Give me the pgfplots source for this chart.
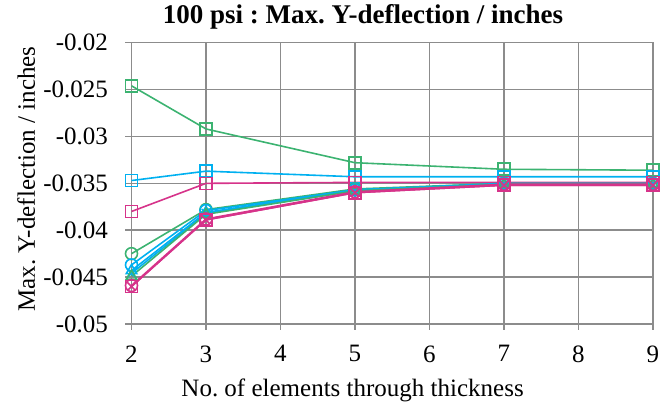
\documentclass[border=0pt]{standalone}
\usepackage{pgfplots}
\pgfplotsset{compat=1.18}
\usepackage{fontspec}
\setmainfont{Liberation Serif}
\frenchspacing
\definecolor{cgreen}{RGB}{60,179,113}
\definecolor{ccyan}{RGB}{0,176,240}
\definecolor{cmag}{RGB}{214,51,138}
\definecolor{cgrid}{RGB}{140,140,140}
\begin{document}
\begin{tikzpicture}
\useasboundingbox (-131.5pt,-82pt) rectangle (530.5pt,324pt);
\begin{axis}[
  at={(0,0)}, anchor=south west,
  scale only axis, width=521.5pt, height=281.3pt,
  xmin=2, xmax=9, ymin=-0.05, ymax=-0.02,
  xtick={2,3,4,5,6,7,8,9},
  ytick={-0.05,-0.045,-0.04,-0.035,-0.03,-0.025,-0.02},
  scaled y ticks=false,
  yticklabel style={/pgf/number format/fixed, /pgf/number format/precision=3, /pgf/number format/assume math mode=true, xshift=-14pt},
  xticklabel style={/pgf/number format/assume math mode=true, yshift=-12pt},
  tick label style={font=\fontsize{25}{28}\selectfont},
  label style={font=\fontsize{25}{28}\selectfont},
  title style={font=\fontsize{27}{30}\selectfont\bfseries, at={(axis description cs:0.444,1)}, anchor=center, yshift=20pt},
  title={100 psi : Max. Y-deflection / inches},
  xlabel={No. of elements through thickness},
  xlabel style={at={(axis description cs:0.424,0)}, anchor=center, yshift=-66pt},
  ylabel={Max. Y-deflection / inches},
  ylabel style={at={(axis description cs:-0.202,0.515)}, anchor=center},
  grid=major,
  grid style={cgrid, line width=1.5pt},
  axis line style={cgrid, line width=1.5pt},
  tick style={cgrid, line width=1.5pt},
  tick align=outside, major tick length=6pt,
  xtick pos=bottom, ytick pos=left,
  every axis plot/.append style={line width=1.6pt, mark options={solid, line width=1.6pt, fill=none}},
  clip=false,
]
% green square
\addplot[cgreen, mark=square, mark size=6pt] coordinates {(2,-0.0246) (3,-0.0292) (5,-0.0328) (7,-0.0335) (9,-0.0336)};
% cyan square
\addplot[ccyan, mark=square, mark size=6pt] coordinates {(2,-0.0347) (3,-0.0337) (5,-0.0343) (7,-0.0343) (9,-0.0343)};
% magenta square (upper)
\addplot[cmag, mark=square, mark size=6pt] coordinates {(2,-0.0380) (3,-0.0350) (5,-0.0349) (7,-0.0349) (9,-0.0349)};
% green circle
\addplot[cgreen, mark=o, mark size=6pt] coordinates {(2,-0.0425) (3,-0.0378) (5,-0.0356) (7,-0.0350) (9,-0.0350)};
% cyan circle
\addplot[ccyan, mark=o, mark size=6pt] coordinates {(2,-0.0437) (3,-0.0379) (5,-0.0357) (7,-0.0350) (9,-0.0350)};
% cyan triangle
\addplot[ccyan, mark=triangle, mark size=6pt] coordinates {(2,-0.0443) (3,-0.0381) (5,-0.0357) (7,-0.0351) (9,-0.0351)};
% cyan x
\addplot[ccyan, mark=x, mark size=6pt] coordinates {(2,-0.0446) (3,-0.0382) (5,-0.0358) (7,-0.0351) (9,-0.0351)};
% green triangle
\addplot[cgreen, mark=triangle, mark size=6pt] coordinates {(2,-0.0449) (3,-0.0383) (5,-0.0358) (7,-0.0351) (9,-0.0351)};
% magenta circle
\addplot[cmag, mark=o, mark size=6pt] coordinates {(2,-0.0459) (3,-0.0388) (5,-0.0359) (7,-0.0351) (9,-0.0351)};
% magenta square (lower)
\addplot[cmag, mark=square, mark size=6pt] coordinates {(2,-0.0460) (3,-0.0389) (5,-0.0360) (7,-0.0352) (9,-0.0352)};
% magenta x
\addplot[cmag, mark=x, mark size=6pt] coordinates {(2,-0.0460) (3,-0.0389) (5,-0.0360) (7,-0.0352) (9,-0.0352)};
\end{axis}
\end{tikzpicture}
\end{document}
